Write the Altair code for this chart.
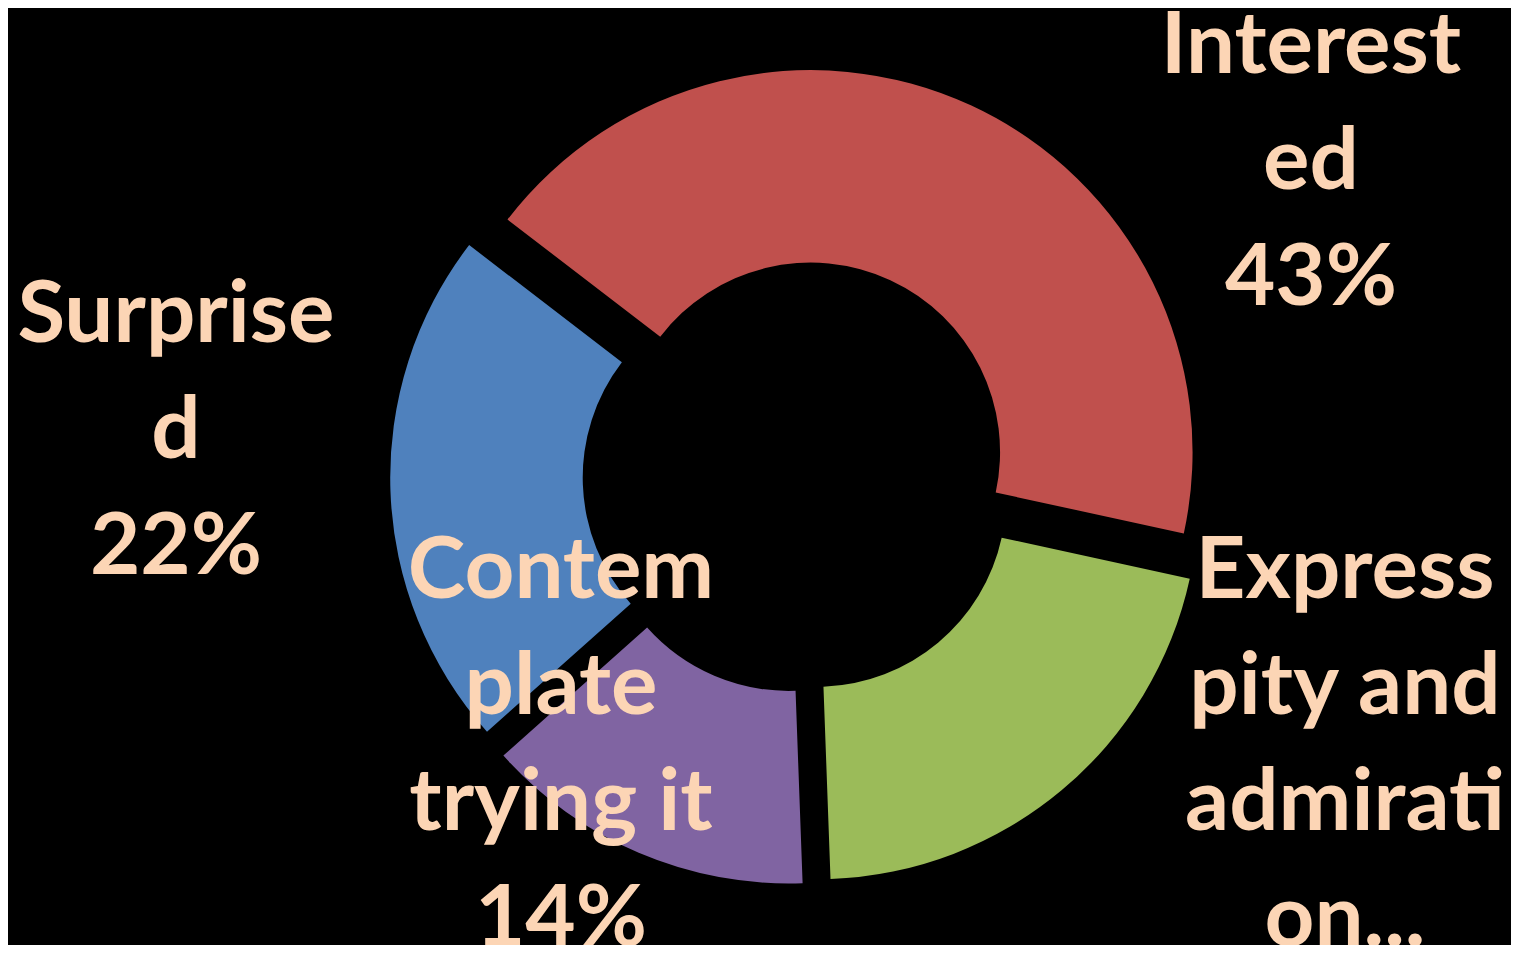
import math
import altair as alt
import pandas as pd

# ---- data ----
CATEGORIES = ["Interested", "Express pity and admiration", "Contemplate trying it", "Surprised"]
VALUES = [43, 21, 14, 22]
# label text as wrapped in the chart (Excel wrapped / truncated the names)
LABEL_LINES = [
    ["Interest", "ed"],
    ["Express", "pity and", "admirati", "on..."],
    ["Contem", "plate", "trying it"],
    ["Surprise", "d"],
]
SHOW_PCT = [True, False, True, True]

# ---- style / layout ----
COLORS = ["#C0504D", "#9BBB59", "#8064A2", "#4F81BD"]
TEXT_COLOR = "#FCD5B5"
W, H = 1503, 937
CX, CY = 791.2, 468.6          # donut centre (px)
R_OUT, R_IN = 382, 189.5
EXPLODE = 27                   # slice explosion (px)
START = math.radians(-52.5)    # angle of first slice
LABEL_X = [1303, 1337, 553, 168]
LABEL_Y = [65, 590, 590, 334]  # baseline of first line
FONT_SIZE = 87
LINE_H = 116

total = sum(VALUES)
labels = []
for lines, v, show in zip(LABEL_LINES, VALUES, SHOW_PCT):
    ls = list(lines)
    if show:
        ls.append(f"{round(v / total * 100)}%")
    labels.append("\n".join(ls))

df = pd.DataFrame({
    "category": CATEGORIES,
    "value": VALUES,
    "order": list(range(len(CATEGORIES))),
    "label": labels,
    "lx": LABEL_X,
    "ly": LABEL_Y,
})

base = alt.Chart(df).transform_joinaggregate(
    total="sum(value)"
).transform_window(
    cum="sum(value)", sort=[alt.SortField("order")], frame=[None, 0]
).transform_calculate(
    t1=f"{START} + 2*PI*datum.cum/datum.total",
    t0=f"{START} + 2*PI*(datum.cum - datum.value)/datum.total",
).transform_calculate(
    mid="(datum.t0 + datum.t1)/2",
).transform_calculate(
    cx=f"{CX} + {EXPLODE}*sin(datum.mid)",
    cy=f"{CY} - {EXPLODE}*cos(datum.mid)",
)

arcs = base.mark_arc(outerRadius=R_OUT, innerRadius=R_IN).encode(
    theta=alt.Theta("t0:Q", scale=None),
    theta2="t1:Q",
    x=alt.X("cx:Q", scale=None, axis=None),
    y=alt.Y("cy:Q", scale=None, axis=None),
    color=alt.Color("category:N", scale=alt.Scale(domain=CATEGORIES, range=COLORS), legend=None),
)

texts = alt.Chart(df).mark_text(
    font="Lato", fontWeight="bold", fontSize=FONT_SIZE, color=TEXT_COLOR,
    lineBreak="\n", lineHeight=LINE_H, align="center", baseline="alphabetic",
).encode(
    x=alt.X("lx:Q", scale=None, axis=None),
    y=alt.Y("ly:Q", scale=None, axis=None),
    text="label:N",
)

chart = alt.layer(arcs, texts).properties(
    width=W, height=H,
    autosize=alt.AutoSizeParams(type="none"),
    padding=0,
    background="black",
).configure_view(stroke=None)

chart.save("out.html", embed_options={"renderer": "svg", "actions": False})
